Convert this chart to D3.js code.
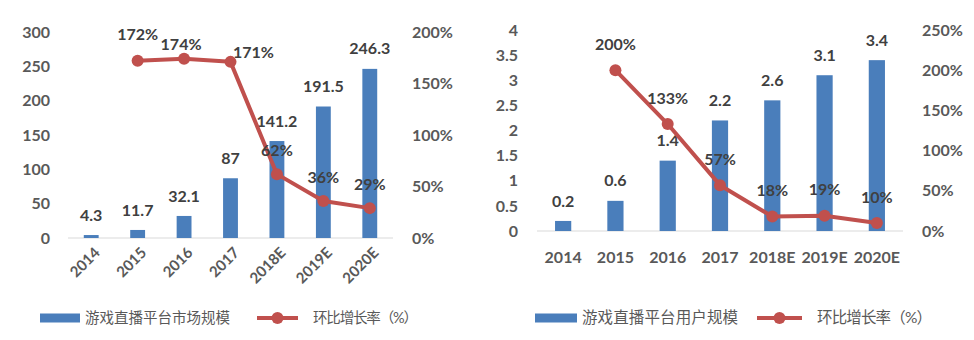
<!DOCTYPE html>
<html>
<head>
<meta charset="utf-8">
<script src="https://cdn.jsdelivr.net/npm/d3@7"></script>
<style>
  html, body { margin: 0; padding: 0; background: #fff; }
  svg { display: block; }
  text { font-family: Lato, "Noto Sans CJK SC", sans-serif; }
</style>
</head>
<body>
<svg id="chart" width="974" height="340"></svg>
<script>
// Years shared by both panels
const years = ["2014", "2015", "2016", "2017", "2018E", "2019E", "2020E"];

// Panel 1: game live-streaming platform market size (亿元) and growth rate
const marketSize = [4.3, 11.7, 32.1, 87, 141.2, 191.5, 246.3];
const marketGrowth = [null, 1.72, 1.74, 1.71, 0.62, 0.36, 0.29];
const marketLeftTicks = [0, 50, 100, 150, 200, 250, 300];
const marketRightTicks = [0, 0.5, 1, 1.5, 2];

// Panel 2: game live-streaming platform users (亿人) and growth rate
const userSize = [0.2, 0.6, 1.4, 2.2, 2.6, 3.1, 3.4];
const userGrowth = [null, 2.00, 1.33, 0.57, 0.18, 0.19, 0.10];
const userLeftTicks = [0, 0.5, 1, 1.5, 2, 2.5, 3, 3.5, 4];
const userRightTicks = [0, 0.5, 1, 1.5, 2, 2.5];

const barLegend1 = "游戏直播平台市场规模";
const barLegend2 = "游戏直播平台用户规模";
const lineLegend = "环比增长率（%）";

const BLUE = "#4a7ebb", RED = "#c0504d", AXIS_TXT = "#595959", LABEL_TXT = "#404040";

const svg = d3.select("#chart");

function drawPanel(cfg) {
  const g = svg.append("g");
  const x = d3.scaleBand().domain(years).range(cfg.xRange)
    .paddingInner(cfg.pad).paddingOuter(cfg.pad / 2);
  const yL = d3.scaleLinear().domain(cfg.leftDomain).range(cfg.yRange);
  const yR = d3.scaleLinear().domain(cfg.rightDomain).range(cfg.yRange);
  const cx = d => x(d) + x.bandwidth() / 2;

  // left value axis
  const la = g.append("g").attr("transform", `translate(${cfg.leftAxisX},0)`)
    .call(d3.axisLeft(yL).tickValues(cfg.leftTicks).tickSize(0).tickPadding(0)
      .tickFormat(cfg.leftFmt));
  // right percentage axis
  const ra = g.append("g").attr("transform", `translate(${cfg.rightAxisX},0)`)
    .call(d3.axisRight(yR).tickValues(cfg.rightTicks).tickSize(0).tickPadding(0)
      .tickFormat(d3.format(".0%")));
  [la, ra].forEach(a => {
    a.select(".domain").remove();
    a.selectAll("text").attr("fill", AXIS_TXT).attr("font-size", cfg.tickSize)
      .attr("font-weight", "bold");
  });

  // category baseline
  g.append("line")
    .attr("x1", cfg.xRange[0]).attr("x2", cfg.xRange[1])
    .attr("y1", yL(0)).attr("y2", yL(0))
    .attr("stroke", "#d9d9d9").attr("stroke-width", 1);

  // bars
  g.selectAll("rect.bar").data(cfg.bars).join("rect").attr("class", "bar")
    .attr("x", (d, i) => x(years[i]))
    .attr("width", x.bandwidth())
    .attr("y", d => yL(d))
    .attr("height", d => yL(0) - yL(d))
    .attr("fill", BLUE);

  // bar value labels
  g.selectAll("text.bv").data(cfg.bars).join("text").attr("class", "bv")
    .attr("x", (d, i) => cx(years[i]))
    .attr("y", d => yL(d) - cfg.barLabelGap)
    .attr("text-anchor", "middle").attr("dy", "0.35em")
    .attr("font-size", cfg.labelSize).attr("font-weight", "bold")
    .attr("fill", LABEL_TXT)
    .text(d => d);

  // growth line
  const pts = cfg.growth.map((v, i) => ({ year: years[i], v, i })).filter(p => p.v !== null);
  g.append("path").datum(pts)
    .attr("d", d3.line().x(p => cx(p.year)).y(p => yR(p.v)))
    .attr("fill", "none").attr("stroke", RED).attr("stroke-width", 4)
    .attr("stroke-linejoin", "round");
  g.selectAll("circle.pt").data(pts).join("circle").attr("class", "pt")
    .attr("cx", p => cx(p.year)).attr("cy", p => yR(p.v))
    .attr("r", 6).attr("fill", RED);

  // growth labels
  g.selectAll("text.gv").data(pts).join("text").attr("class", "gv")
    .attr("x", p => cx(p.year) + (cfg.growthShift[p.i] || [0, 0])[0])
    .attr("y", p => yR(p.v) + (cfg.growthShift[p.i] || [0, cfg.growthGap])[1])
    .attr("text-anchor", "middle").attr("dy", "0.35em")
    .attr("font-size", cfg.labelSize).attr("font-weight", "bold")
    .attr("fill", LABEL_TXT)
    .text(p => d3.format(".0%")(p.v));

  // category labels
  const xl = g.selectAll("text.xl").data(years).join("text").attr("class", "xl")
    .attr("font-size", cfg.catSize).attr("font-weight", "bold").attr("fill", AXIS_TXT)
    .text(d => d);
  if (cfg.rotate) {
    xl.attr("text-anchor", "end").attr("dy", "0.35em")
      .attr("transform", d => `translate(${cx(d) + 6},${cfg.catY}) rotate(-45)`);
  } else {
    xl.attr("text-anchor", "middle").attr("dy", "0.35em")
      .attr("x", d => cx(d)).attr("y", cfg.catY);
  }

  // legend
  const lg = g.append("g");
  const L = cfg.legend;
  lg.append("rect").attr("x", L.rectX).attr("y", L.y - 4.5).attr("width", L.rectW)
    .attr("height", 9).attr("fill", BLUE);
  lg.append("text").attr("x", L.text1X).attr("y", L.y).attr("dy", "0.35em")
    .attr("font-size", L.size).attr("fill", AXIS_TXT)
    .attr("font-family", "'Noto Sans CJK SC', sans-serif")
    .attr("textLength", L.text1W).text(cfg.barName);
  lg.append("line").attr("x1", L.lineX).attr("x2", L.lineX + L.lineW)
    .attr("y1", L.y).attr("y2", L.y).attr("stroke", RED).attr("stroke-width", 4);
  lg.append("circle").attr("cx", L.lineX + L.lineW / 2).attr("cy", L.y).attr("r", 6).attr("fill", RED);
  lg.append("text").attr("x", L.text2X).attr("y", L.y).attr("dy", "0.35em")
    .attr("font-size", L.size).attr("fill", AXIS_TXT)
    .attr("font-family", "'Noto Sans CJK SC', sans-serif")
    .attr("textLength", L.text2W).text(lineLegend);
}

drawPanel({
  xRange: [68, 393], pad: 0.68,
  yRange: [238, 32],
  leftDomain: [0, 300], rightDomain: [0, 2],
  leftTicks: marketLeftTicks, rightTicks: marketRightTicks,
  leftFmt: d3.format("d"),
  leftAxisX: 50, rightAxisX: 412,
  tickSize: 16, labelSize: 16, catSize: 15,
  bars: marketSize, growth: marketGrowth,
  barLabelGap: 20, growthGap: -24,
  growthShift: { 1: [0, -26], 2: [-3, -14], 3: [23, -9] },
  rotate: true, catY: 250,
  barName: barLegend1,
  legend: { y: 318, rectX: 40, rectW: 40, text1X: 85, text1W: 145, size: 14.5,
            lineX: 257, lineW: 41, text2X: 313, text2W: 105 }
});

drawPanel({
  xRange: [537, 903], pad: 0.69,
  yRange: [231, 30],
  leftDomain: [0, 4], rightDomain: [0, 2.5],
  leftTicks: userLeftTicks, rightTicks: userRightTicks,
  leftFmt: d => String(d),
  leftAxisX: 518, rightAxisX: 922,
  tickSize: 16, labelSize: 16, catSize: 16,
  bars: userSize, growth: userGrowth,
  barLabelGap: 20, growthGap: -26,
  growthShift: {},
  rotate: false, catY: 257,
  barName: barLegend2,
  legend: { y: 318, rectX: 535, rectW: 42, text1X: 582, text1W: 156, size: 15.5,
            lineX: 757, lineW: 45, text2X: 817, text2W: 115 }
});
</script>
</body>
</html>
